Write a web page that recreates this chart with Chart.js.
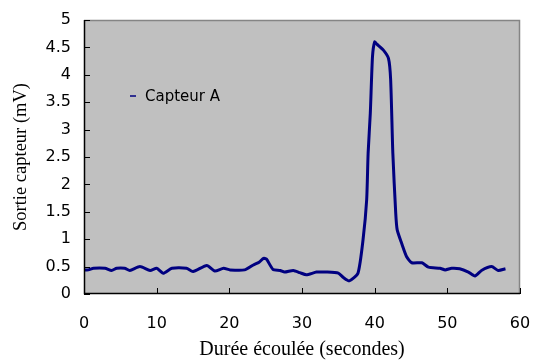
<!DOCTYPE html>
<html>
<head>
<meta charset="utf-8">
<script src="https://cdn.jsdelivr.net/npm/chart.js@4/dist/chart.umd.min.js"></script>
<style>
  html, body { margin: 0; padding: 0; background: #fff; }
  #wrap { width: 533px; height: 360px; }
</style>
</head>
<body>
<div id="wrap"><canvas id="chart" width="533" height="360"></canvas></div>
<script>
// elapsed time (s) and sensor output (mV)
const times = [0, 0.6, 1.3, 2.9, 3.8, 4.5, 5.6, 6.3, 7.7, 9.1, 10, 10.9, 12.1, 14.1, 15, 16.9, 18, 19.2, 20.1,
  22.1, 23.3, 24.1, 24.7, 25.1, 26, 27, 27.6, 28.8, 29.7, 30.6, 32, 33.4, 35, 35.7, 36.5, 37.7, 38.4, 38.9,
  39.1, 39.4, 39.7, 40.0, 40.3, 41.2, 41.9, 42.2, 42.5, 42.9, 43.1, 43.7, 44.4, 45.1, 46.5, 47.4, 49, 49.7,
  50.6, 51.7, 52.9, 53.8, 54.7, 56.1, 57, 58];
const capteurA = [0.44, 0.44, 0.47, 0.47, 0.43, 0.47, 0.47, 0.43, 0.50, 0.43, 0.47, 0.38, 0.47, 0.47, 0.41, 0.52, 0.42, 0.47, 0.44,
  0.44, 0.53, 0.58, 0.65, 0.64, 0.45, 0.43, 0.40, 0.43, 0.39, 0.35, 0.40, 0.40, 0.38, 0.30, 0.24, 0.38, 0.99, 1.72,
  2.57, 3.30, 4.33, 4.60, 4.56, 4.45, 4.30, 3.91, 2.57, 1.47, 1.17, 0.93, 0.68, 0.57, 0.57, 0.49, 0.47, 0.44,
  0.47, 0.46, 0.40, 0.33, 0.43, 0.50, 0.43, 0.46];
const xTicks = [0, 10, 20, 30, 40, 50, 60];
const yTicks = [0, 0.5, 1, 1.5, 2, 2.5, 3, 3.5, 4, 4.5, 5];

const seriesName = 'Capteur A';
const lineColor = '#000080';
const sansFont = "'DejaVu Sans', Verdana, sans-serif";
const serifFont = "'Liberation Serif', 'Times New Roman', serif";

Chart.defaults.color = '#000';
Chart.defaults.font.family = sansFont;
Chart.defaults.font.size = 16;

const plotFrame = {
    id: 'plotFrame',
    beforeDatasetsDraw(chart) {
        const { ctx, chartArea: a } = chart;
        ctx.save();
        ctx.fillStyle = '#c0c0c0';
        ctx.fillRect(a.left, a.top, a.right - a.left, a.bottom - a.top);
        ctx.restore();
    },
    afterDatasetsDraw(chart) {
        const { ctx, chartArea: a, scales } = chart;
        ctx.save();
        // top and right edges in grey
        ctx.strokeStyle = '#858585';
        ctx.lineWidth = 1.5;
        ctx.beginPath();
        ctx.moveTo(a.left, a.top + 0.5);
        ctx.lineTo(a.right - 0.5, a.top + 0.5);
        ctx.lineTo(a.right - 0.5, a.bottom);
        ctx.stroke();
        // axes in black with inward ticks
        ctx.strokeStyle = '#000';
        ctx.lineWidth = 1.5;
        ctx.beginPath();
        ctx.moveTo(a.left + 0.5, a.top);
        ctx.lineTo(a.left + 0.5, a.bottom - 0.5);
        ctx.lineTo(a.right, a.bottom - 0.5);
        ctx.stroke();
        ctx.lineWidth = 1;
        ctx.beginPath();
        yTicks.forEach(v => {
            const y = Math.round(scales.y.getPixelForValue(v)) + 0.5;
            ctx.moveTo(a.left, y);
            ctx.lineTo(a.left + 6, y);
        });
        xTicks.forEach(v => {
            const x = Math.round(scales.x.getPixelForValue(v)) + 0.5;
            ctx.moveTo(x, a.bottom);
            ctx.lineTo(x, a.bottom - 6);
        });
        ctx.stroke();
        // legend inside the plot
        const lx = a.left + 46, ly = a.top + 76;
        ctx.strokeStyle = lineColor;
        ctx.lineWidth = 1.5;
        ctx.beginPath();
        ctx.moveTo(lx, ly);
        ctx.lineTo(lx + 6, ly);
        ctx.stroke();
        ctx.fillStyle = '#000';
        ctx.font = '15px ' + sansFont;
        ctx.textBaseline = 'middle';
        ctx.fillText(seriesName, lx + 15, ly + 1);
        ctx.restore();
    }
};

new Chart(document.getElementById('chart'), {
    type: 'line',
    data: {
        datasets: [{
            label: seriesName,
            data: times.map((t, i) => ({ x: t, y: capteurA[i] })),
            borderColor: lineColor,
            borderWidth: 3,
            pointRadius: 0,
            tension: 0.2,
            fill: false
        }]
    },
    options: {
        responsive: false,
        animation: false,
        layout: { padding: { top: 20, right: 13, left: 0, bottom: 0 } },
        plugins: { legend: { display: false }, tooltip: { enabled: false } },
        scales: {
            x: {
                type: 'linear',
                min: 0,
                max: 60,
                afterBuildTicks: s => { s.ticks = xTicks.map(v => ({ value: v })); },
                afterFit: s => { s.height = 66; },
                grid: { display: false, drawTicks: true, tickLength: 20 },
                border: { display: false },
                ticks: {
                    padding: 0, color: '#000', font: { family: sansFont, size: 16 },
                    callback: v => String(v)
                },
                title: {
                    display: true,
                    text: 'Durée écoulée (secondes)',
                    color: '#000',
                    font: { family: serifFont, size: 20, lineHeight: 1 },
                    padding: { top: 0, bottom: 0 }
                }
            },
            y: {
                min: 0,
                max: 5,
                afterBuildTicks: s => { s.ticks = yTicks.map(v => ({ value: v })); },
                afterFit: s => { s.width = 84; },
                grid: { display: false, drawTicks: true, tickLength: 13 },
                border: { display: false },
                ticks: {
                    padding: 0, color: '#000', font: { family: sansFont, size: 16 },
                    callback: v => String(v)
                },
                title: {
                    display: true,
                    text: 'Sortie capteur (mV)',
                    color: '#000',
                    font: { family: serifFont, size: 18.5, lineHeight: 1 },
                    padding: { top: 12, bottom: 0 }
                }
            }
        }
    },
    plugins: [plotFrame]
});
</script>
</body>
</html>
